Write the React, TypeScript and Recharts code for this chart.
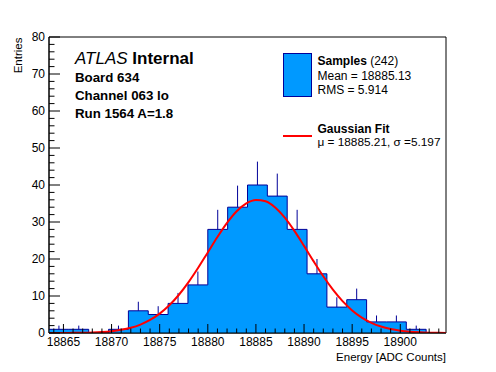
import React from 'react';
import { ComposedChart, Area, Line, XAxis, YAxis, ReferenceLine, ReferenceArea } from 'recharts';

// histogram: 20 bins, left edges + final right edge
const binEdges = [
  18863.5, 18865.5625, 18867.625, 18869.6875, 18871.75, 18873.8125, 18875.875,
  18877.9375, 18880, 18882.0625, 18884.125, 18886.1875, 18888.25, 18890.3125,
  18892.375, 18894.4375, 18896.5, 18898.5625, 18900.625, 18902.6875, 18904.75,
];
const binCounts = [1, 1, 0, 1, 6, 5, 8, 13, 28, 34, 40, 37, 28, 16, 7, 9, 3, 3, 1, 0];
const binErrors = [1, 1, 0, 1, 2.45, 2.24, 2.83, 3.61, 5.29, 5.83, 6.32, 6.08, 5.29, 4, 2.65, 3, 1.73, 1.73, 1, 0];

// gaussian fit curve
const fitX = [
  18863.5, 18864, 18865, 18866, 18867, 18868, 18869, 18870, 18871, 18872, 18873, 18874,
  18875, 18876, 18877, 18878, 18879, 18880, 18881, 18882, 18883, 18884, 18885, 18886,
  18887, 18888, 18889, 18890, 18891, 18892, 18893, 18894, 18895, 18896, 18897, 18898,
  18899, 18900, 18901, 18902, 18903, 18904, 18904.75,
];
const fitY = [
  0, 0.01, 0.02, 0.04, 0.08, 0.15, 0.28, 0.5, 0.86, 1.42, 2.28, 3.52,
  5.23, 7.49, 10.34, 13.75, 17.63, 21.78, 25.93, 29.75, 32.89, 35.04, 35.97, 35.59,
  33.93, 31.17, 27.59, 23.54, 19.35, 15.33, 11.71, 8.61, 6.11, 4.17, 2.75, 1.74,
  1.07, 0.63, 0.36, 0.19, 0.1, 0.05, 0.03,
];

const xMajorTicks = [18865, 18870, 18875, 18880, 18885, 18890, 18895, 18900];
const yMajorTicks = [0, 10, 20, 30, 40, 50, 60, 70, 80];

const xDomain: [number, number] = [18863.5, 18904.75];

const xTicks: number[] = [];
for (let v = 18864; v <= 18904; v++) xTicks.push(v);
const yTicks: number[] = [];
for (let v = 0; v <= 80; v += 2) yTicks.push(v);

const histData = binEdges.map((x, i) => ({ x, count: binCounts[i] ?? 0 }));
const fitData = fitX.map((x, i) => ({ x, fit: fitY[i] }));

const FONT = '"Liberation Sans", Arial, Helvetica, sans-serif';
const FILL = '#0099ff';
const EDGE = '#000099';

const XTick = (props: any) => {
  const { x, y, payload } = props;
  const major = xMajorTicks.includes(payload.value);
  return (
    <g>
      <line x1={x} x2={x} y1={y} y2={y - (major ? 9 : 4.5)} stroke="#000" />
      {major && (
        <text x={x} y={y + 13} textAnchor="middle" fontSize={12} fill="#000">
          {payload.value}
        </text>
      )}
    </g>
  );
};

const YTick = (props: any) => {
  const { x, y, payload } = props;
  const major = yMajorTicks.includes(payload.value);
  return (
    <g>
      <line x1={x} x2={x + (major ? 11 : 5.5)} y1={y} y2={y} stroke="#000" />
      {major && (
        <text x={x - 4} y={y + 4.3} textAnchor="end" fontSize={12} fill="#000">
          {payload.value}
        </text>
      )}
    </g>
  );
};

export default function App() {
  return (
    <div style={{ position: 'absolute', left: 0, top: 0, width: 496, height: 372, background: '#fff', fontFamily: FONT }}>
      <ComposedChart width={496} height={372} margin={{ top: 37, right: 50, bottom: 9, left: 9 }}>
        <XAxis
          dataKey="x"
          type="number"
          domain={xDomain}
          allowDataOverflow
          ticks={xTicks}
          interval={0}
          tick={<XTick />}
          tickLine={false}
          tickSize={0}
          tickMargin={0}
          height={30}
          axisLine={{ stroke: '#000' }}
        />
        <YAxis
          type="number"
          domain={[0, 80]}
          allowDataOverflow
          ticks={yTicks}
          interval={0}
          tick={<YTick />}
          tickLine={false}
          tickSize={0}
          tickMargin={0}
          width={40}
          axisLine={{ stroke: '#000' }}
        />
        <ReferenceArea x1={xDomain[0]} x2={xDomain[1]} y1={0} y2={80} fill="none" stroke="#000" strokeWidth={1} />
        <Area
          data={histData}
          dataKey="count"
          type="stepAfter"
          stroke={EDGE}
          strokeWidth={1}
          fill={FILL}
          fillOpacity={1}
          isAnimationActive={false}
        />
        {binCounts.map((c, i) =>
          c > 0 ? (
            <ReferenceLine
              key={i}
              segment={[
                { x: (binEdges[i] + binEdges[i + 1]) / 2, y: c },
                { x: (binEdges[i] + binEdges[i + 1]) / 2, y: c + binErrors[i] },
              ]}
              stroke={EDGE}
              strokeWidth={1}
            />
          ) : null
        )}
        <Line
          data={fitData}
          dataKey="fit"
          type="monotone"
          stroke="#ff0000"
          strokeWidth={2}
          dot={false}
          isAnimationActive={false}
        />
      </ComposedChart>

      <svg width={496} height={372} style={{ position: 'absolute', left: 0, top: 0, pointerEvents: 'none' }}>
        <text x={22} y={37.5} transform="rotate(-90 22 37.5)" textAnchor="end" fontSize={11.5} fill="#000">
          Entries
        </text>
        <text x={446} y={360.5} textAnchor="end" fontSize={11.5} fill="#000">
          Energy [ADC Counts]
        </text>

        <text x={75} y={63.5} fontSize={17} fill="#000">
          <tspan fontStyle="italic">ATLAS</tspan>
          <tspan fontWeight="bold"> Internal</tspan>
        </text>
        <text x={75} y={81.7} fontSize={13.3} fontWeight="bold" fill="#000">Board 634</text>
        <text x={75} y={99.8} fontSize={13.3} fontWeight="bold" fill="#000">Channel 063 lo</text>
        <text x={75} y={117.7} fontSize={13.3} fontWeight="bold" fill="#000">Run 1564 A=1.8</text>

        <rect x={283.5} y={53.5} width={28} height={43} fill={FILL} stroke={EDGE} />
        <text x={317.5} y={65} fontSize={12} fill="#000">
          <tspan fontWeight="bold">Samples</tspan>
          <tspan> (242)</tspan>
        </text>
        <text x={317.5} y={80} fontSize={12} fill="#000">Mean = 18885.13</text>
        <text x={317.5} y={93.5} fontSize={12} fill="#000">RMS = 5.914</text>

        <line x1={283} x2={312} y1={136} y2={136} stroke="#ff0000" strokeWidth={2} />
        <text x={317.5} y={132.5} fontSize={12} fontWeight="bold" fill="#000">Gaussian Fit</text>
        <text x={317.5} y={146} fontSize={11.8} fill="#000">μ = 18885.21, σ =5.197</text>
      </svg>
    </div>
  );
}
